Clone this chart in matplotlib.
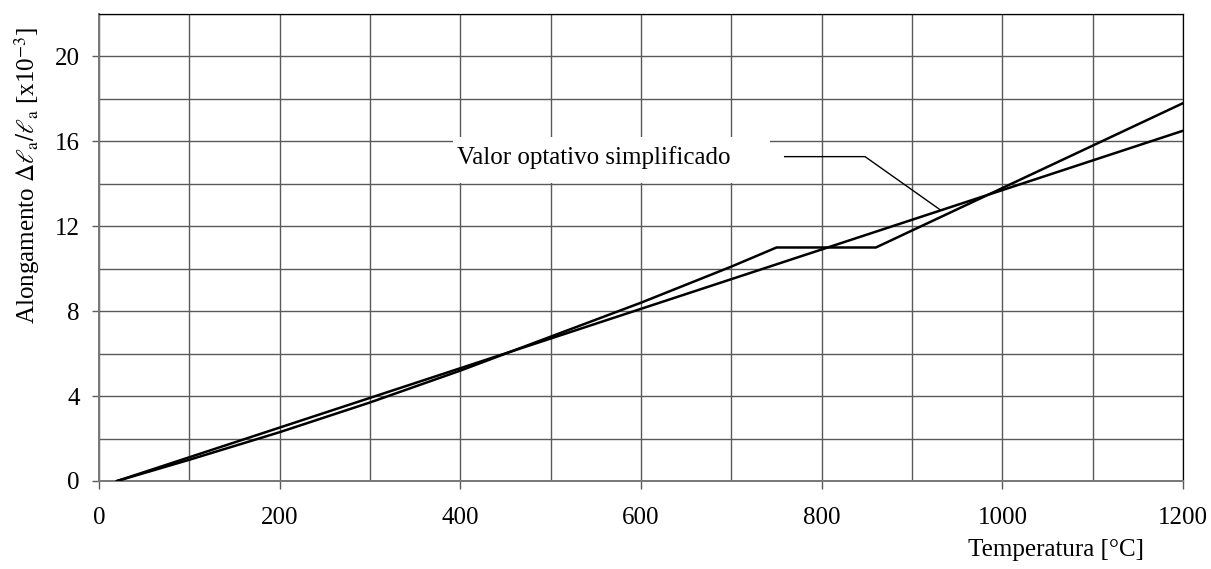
import matplotlib
matplotlib.use("Agg")
import matplotlib.pyplot as plt
from matplotlib.patches import Rectangle
from matplotlib.ticker import MultipleLocator

# Values
temp_curve = [20, 100, 200, 300, 400, 500, 600, 700, 750, 860, 1200]
elong_curve = [0.0, 1.0, 2.3, 3.7, 5.2, 6.8, 8.4, 10.1, 11.0, 11.0, 17.8]

temp_simple = [20, 1200]
elong_simple = [0.0, 16.5]

label_text = "Valor optativo simplificado"
leader_x = [759, 848, 931]
leader_y = [15.28, 15.28, 12.78]

plt.rcParams["font.family"] = ["Liberation Serif", "DejaVu Serif"]
plt.rcParams["mathtext.fontset"] = "stix"
plt.rcParams["font.size"] = 18

GRID = "#5a5a5a"

fig = plt.figure(figsize=(12.11, 5.69), dpi=100)
ax = fig.add_axes([0.0818, 0.1547, 0.8951, 0.8207])

ax.set_xlim(0, 1200)
ax.set_ylim(0, 22)
ax.xaxis.set_major_locator(MultipleLocator(200))
ax.xaxis.set_minor_locator(MultipleLocator(100))
ax.yaxis.set_major_locator(MultipleLocator(4))
ax.yaxis.set_minor_locator(MultipleLocator(2))
ax.set_yticks([0, 4, 8, 12, 16, 20])

ax.set_axisbelow(True)
ax.grid(which="both", color=GRID, linewidth=1.0)
ax.tick_params(axis="x", which="major", length=6, width=1, color=GRID, pad=13)
ax.tick_params(axis="y", which="major", length=5, width=1, color=GRID, pad=9)
ax.tick_params(which="minor", length=0)
for side in ["left", "bottom"]:
    ax.spines[side].set_color("#777777")
    ax.spines[side].set_linewidth(1.4)
for side in ["top", "right"]:
    ax.spines[side].set_color("black")
    ax.spines[side].set_linewidth(0.9)

# white box behind the label
ax.add_patch(Rectangle((392, 14.05), 351, 2.15, facecolor="white",
                       edgecolor="none", zorder=1.5))
ax.text(396, 15.25, label_text, ha="left", va="center", zorder=3)
ax.plot(leader_x, leader_y, color="black", linewidth=1.0, zorder=3)

ax.plot(temp_curve, elong_curve, color="black", linewidth=1.8, zorder=4)
ax.plot(temp_simple, elong_simple, color="black", linewidth=1.8, zorder=4)

ax.set_xlabel("Temperatura [°C]")
ax.xaxis.set_label_coords(0.883, -0.148)
ax.xaxis.label.set_va("center")
ax.set_ylabel(r"Alongamento $\Delta\ell_{\mathrm{a}}/\ell_{\mathrm{a}}$ [x10$^{-3}$]")
ax.yaxis.set_label_coords(-0.0664, 0.655)
ax.yaxis.label.set_va("center")

fig.savefig("out.png", dpi=100)
